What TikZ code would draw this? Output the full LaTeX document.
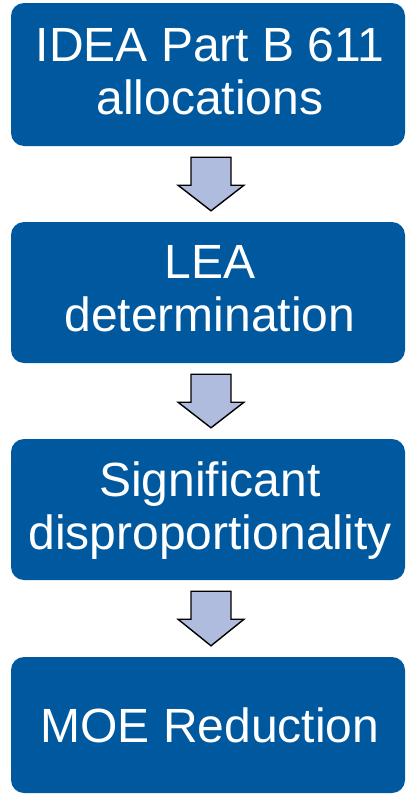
\documentclass[tikz,border=0pt]{standalone}
\usepackage{fontspec}
\setmainfont{Liberation Sans}
\usetikzlibrary{calc}
\definecolor{boxblue}{RGB}{0,89,159}
\definecolor{arrowfill}{RGB}{176,188,222}
\tikzset{
  stepbox/.style={draw=none, fill=boxblue, rounded corners=13pt, inner sep=0pt, minimum width=394pt},
  steptext/.style={text=white, inner sep=0pt, align=center, anchor=base, font=\fontsize{48}{53}\selectfont},
  blockarr/.style={fill=arrowfill, draw=black, line width=1.4pt, line join=miter}
}
\begin{document}
\begin{tikzpicture}[x=1pt,y=-1pt]
\useasboundingbox (0,0) rectangle (406,795);
\node[stepbox, minimum height=143pt] (b1) at (208,74.5) {};
\node[stepbox, minimum height=141pt] (b2) at (208,292.5) {};
\node[stepbox, minimum height=141pt] (b3) at (208,509.5) {};
\node[stepbox, minimum height=136pt] (b4) at (208,725) {};
\node[steptext] (t1) at ($(b1.north)+(2,112)$) {IDEA Part B 611\\allocations};
\node[steptext] (t2) at ($(b2.north)+(2,110)$) {LEA\\determination};
\node[steptext] (t3) at ($(b3.north)+(2,111)$) {Significant\\disproportionality};
\node[steptext] (t4) at ($(b4.north)+(2,86)$) {MOE Reduction};
\foreach \a/\b in {b1/b2,b2/b3,b3/b4}{
  \filldraw[blockarr] ($(\a.south)+(-17,11)$) -- ($(\a.south)+(23,11)$) -- ($(\a.south)+(23,39)$)
    -- ($(\a.south)+(36,39)$) -- ($(\b.north)+(3,-11)$) -- ($(\a.south)+(-30,39)$)
    -- ($(\a.south)+(-17,39)$) -- cycle;
}
\end{tikzpicture}
\end{document}
